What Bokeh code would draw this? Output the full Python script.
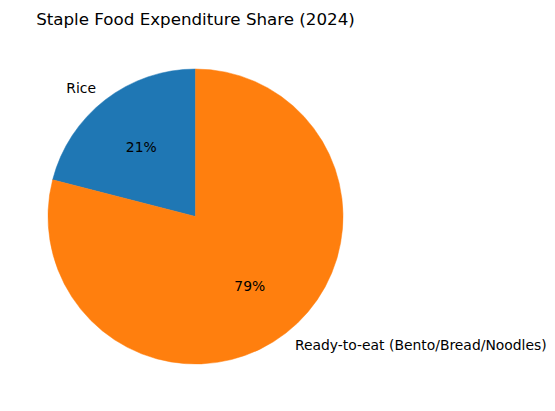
import numpy as np
from bokeh.plotting import figure
from bokeh.models import Range1d, Label, ColumnDataSource
from bokeh.embed import file_html
from bokeh.resources import INLINE

# Data
categories = ["Rice", "Ready-to-eat (Bento/Bread/Noodles)"]
shares = [21, 79]
colors = ["#1f77b4", "#ff7f0e"]
title_text = "Staple Food Expenditure Share (2024)"

# Layout (screen pixels, y measured upward from the bottom of the window)
W, H = 555, 411
cx, cy, r = 195, H - 216, 147.5
FONT = "DejaVu Sans"

p = figure(width=W - 8, height=H - 8, output_backend="svg", toolbar_location=None,
           x_range=Range1d(0, W - 8), y_range=Range1d(8, H), min_border=0)
p.axis.visible = False
p.grid.visible = False
p.outline_line_color = None
p.background_fill_color = "white"

# matplotlib-style pie: start at 90 degrees, counterclockwise
vals = np.array(shares, dtype=float)
frac = vals / vals.sum()
starts = np.pi / 2 + 2 * np.pi * np.concatenate([[0], np.cumsum(frac)[:-1]])
ends = np.pi / 2 + 2 * np.pi * np.cumsum(frac)
mids = (starts + ends) / 2

src = ColumnDataSource(dict(start=starts, end=ends, color=colors))
p.wedge(x=cx, y=cy, radius=r, start_angle="start", end_angle="end",
        fill_color="color", line_color="color", line_width=0.5, source=src)

# Category labels at 1.1 r, percentages at 0.6 r
for cat, share, m in zip(categories, frac, mids):
    lx = cx + 1.1 * r * np.cos(m)
    ly = cy + 1.1 * r * np.sin(m)
    p.add_layout(Label(x=lx, y=ly, text=cat, text_font=FONT, text_font_size="13.9px",
                       text_align="right" if np.cos(m) < 0 else "left",
                       text_baseline="middle", text_color="black"))
    px = cx + 0.6 * r * np.cos(m)
    py = cy + 0.6 * r * np.sin(m)
    p.add_layout(Label(x=px, y=py, text=f"{share * 100:.0f}%", text_font=FONT,
                       text_font_size="13.9px", text_align="center",
                       text_baseline="middle", text_color="black"))

p.add_layout(Label(x=cx, y=H - 18, text=title_text, text_font=FONT,
                   text_font_size="16.7px", text_align="center",
                   text_baseline="middle", text_color="black"))

open("out.html", "w").write(file_html(p, INLINE))
